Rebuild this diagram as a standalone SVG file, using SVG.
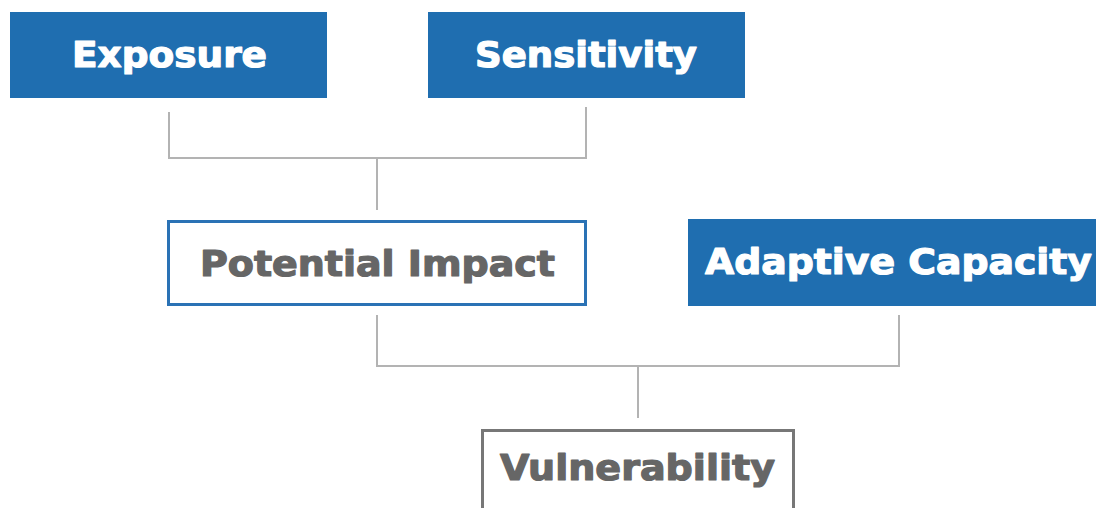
<svg xmlns="http://www.w3.org/2000/svg" width="1096" height="508" viewBox="0 0 1096 508">
<style>
.fill{fill:#1f6eb0}
.outline{fill:#fff;stroke-width:3}
.lbl{font-family:"DejaVu Sans","Open Sans",sans-serif;font-weight:bold;font-size:35px;text-anchor:middle;stroke-width:1.2;stroke-linejoin:round}
.w{fill:#fff;stroke:#fff}
.g{fill:#666;stroke:#666}
.conn{fill:none;stroke:#b3b3b3;stroke-width:2}
</style>
<rect width="1096" height="508" fill="#fff"/>
<g id="connectors">
<path class="conn" d="M169 112V158H586V107M377 158V210"/>
<path class="conn" d="M377 315V366H899V315M638 366V418"/>
</g>
<g id="exposure">
<rect class="fill" x="10" y="12" width="317" height="86"/>
<text class="lbl w" x="169.5" y="67" textLength="195" lengthAdjust="spacingAndGlyphs">Exposure</text>
</g>
<g id="sensitivity">
<rect class="fill" x="428" y="12" width="317" height="86"/>
<text class="lbl w" x="586" y="67" textLength="222" lengthAdjust="spacingAndGlyphs">Sensitivity</text>
</g>
<g id="potential-impact">
<rect class="outline" x="168.5" y="221.5" width="417" height="83" stroke="#2a72b5"/>
<text class="lbl g" x="377.5" y="276" textLength="355" lengthAdjust="spacingAndGlyphs">Potential Impact</text>
</g>
<g id="adaptive-capacity">
<rect class="fill" x="688" y="219" width="420" height="87"/>
<text class="lbl w" x="898.5" y="274" textLength="387" lengthAdjust="spacingAndGlyphs">Adaptive Capacity</text>
</g>
<g id="vulnerability">
<rect class="outline" x="482.5" y="430.5" width="311" height="90" stroke="#777"/>
<text class="lbl g" x="637.5" y="480" textLength="275" lengthAdjust="spacingAndGlyphs">Vulnerability</text>
</g>
</svg>
